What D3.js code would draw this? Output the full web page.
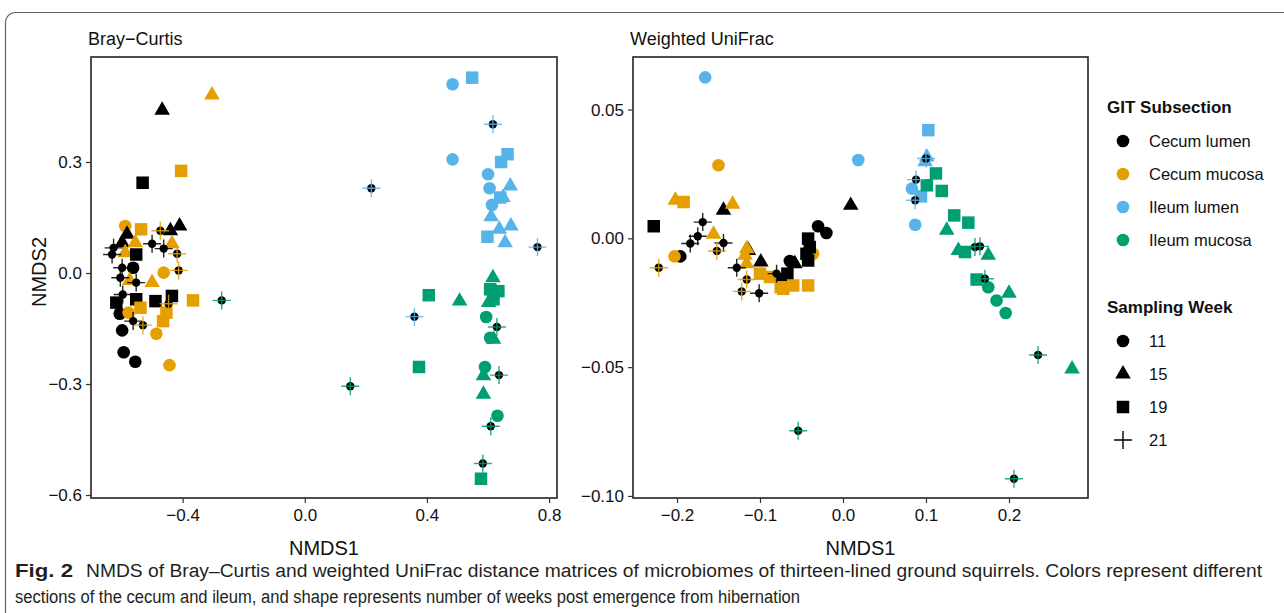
<!DOCTYPE html>
<html>
<head>
<meta charset="utf-8">
<script src="https://cdn.jsdelivr.net/npm/d3@7"></script>
<style>
  body { margin: 0; background: #fff; }
  text { font-family: "Liberation Sans", Arial, sans-serif; }
</style>
</head>
<body>
<svg id="chart" width="1284" height="613"></svg>
<script>
// 群の名前と色
const sections = ["Cecum lumen", "Cecum mucosa", "Ileum lumen", "Ileum mucosa"];
const sectionColors = ["#000000", "#E69F00", "#56B4E9", "#009E73"];
const weeks = [11, 15, 19, 21];

// 目盛り
const bcXTicks = [-0.4, 0.0, 0.4, 0.8];
const bcYTicks = [-0.6, -0.3, 0.0, 0.3];
const wuXTicks = [-0.2, -0.1, 0.0, 0.1, 0.2];
const wuYTicks = [-0.10, -0.05, 0.00, 0.05];

// Bray-Curtis: [NMDS1, NMDS2, section index, week]
const brayCurtis = [
  [-0.467, 0.44, 0, 15], [-0.531, 0.244, 0, 19], [-0.44, 0.114, 0, 15], [-0.41, 0.127, 0, 15],
  [-0.582, 0.105, 0, 15], [-0.50, 0.079, 0, 21], [-0.462, 0.066, 0, 21], [-0.626, 0.068, 0, 21],
  [-0.598, 0.082, 0, 15], [-0.631, 0.05, 0, 21], [-0.552, 0.05, 0, 19], [-0.598, 0.014, 0, 21],
  [-0.562, 0.014, 0, 11], [-0.604, -0.013, 0, 21], [-0.552, -0.026, 0, 21], [-0.596, -0.058, 0, 21],
  [-0.617, -0.080, 0, 19], [-0.552, -0.071, 0, 19], [-0.489, -0.076, 0, 19], [-0.435, -0.062, 0, 19],
  [-0.606, -0.11, 0, 11], [-0.562, -0.13, 0, 21], [-0.598, -0.155, 0, 11], [-0.593, -0.214, 0, 11],
  [-0.555, -0.24, 0, 11],
  [-0.304, 0.481, 1, 15], [-0.405, 0.276, 1, 19], [-0.588, 0.127, 1, 11], [-0.536, 0.118, 1, 19],
  [-0.473, 0.114, 1, 21], [-0.555, 0.082, 1, 15], [-0.435, 0.079, 1, 15], [-0.588, 0.055, 1, 15],
  [-0.418, 0.052, 1, 21], [-0.413, 0.007, 1, 21], [-0.462, 0.001, 1, 11], [-0.573, -0.020, 1, 15],
  [-0.50, -0.026, 1, 15], [-0.446, -0.083, 1, 21], [-0.366, -0.074, 1, 19], [-0.538, -0.094, 1, 19],
  [-0.577, -0.107, 1, 11], [-0.453, -0.107, 1, 19], [-0.464, -0.13, 1, 19], [-0.53, -0.141, 1, 21],
  [-0.486, -0.164, 1, 11], [-0.443, -0.249, 1, 11],
  [0.484, 0.51, 2, 11], [0.548, 0.528, 2, 19], [0.616, 0.402, 2, 21], [0.218, 0.229, 2, 21],
  [0.484, 0.307, 2, 11], [0.664, 0.321, 2, 19], [0.643, 0.30, 2, 19], [0.60, 0.267, 2, 11],
  [0.605, 0.229, 2, 11], [0.673, 0.235, 2, 15], [0.649, 0.204, 2, 15], [0.64, 0.204, 2, 19],
  [0.613, 0.184, 2, 11], [0.61, 0.152, 2, 15], [0.637, 0.118, 2, 15], [0.675, 0.127, 2, 15],
  [0.598, 0.098, 2, 19], [0.656, 0.082, 2, 15], [0.762, 0.07, 2, 21], [0.359, -0.118, 2, 21],
  [-0.272, -0.074, 3, 21], [0.406, -0.060, 3, 19], [0.507, -0.076, 3, 15], [0.616, -0.013, 3, 15],
  [0.607, -0.044, 3, 19], [0.634, -0.049, 3, 19], [0.602, -0.080, 3, 15], [0.618, -0.071, 3, 19],
  [0.594, -0.119, 3, 11], [0.629, -0.146, 3, 21], [0.607, -0.175, 3, 11], [0.618, -0.179, 3, 15],
  [0.374, -0.254, 3, 19], [0.590, -0.254, 3, 11], [0.585, -0.278, 3, 15], [0.636, -0.276, 3, 21],
  [0.149, -0.306, 3, 21], [0.585, -0.328, 3, 15], [0.631, -0.386, 3, 11], [0.609, -0.414, 3, 21],
  [0.583, -0.515, 3, 21], [0.577, -0.556, 3, 19]
];

// Weighted UniFrac: [NMDS1, NMDS2, section index, week]
const unifrac = [
  [-0.228, 0.0047, 0, 19], [-0.144, 0.0109, 0, 15], [-0.169, 0.0063, 0, 21], [-0.175, 0.0008, 0, 21],
  [-0.184, -0.002, 0, 21], [-0.144, -0.0018, 0, 21], [-0.042, -0.0001, 0, 19], [-0.030, 0.0047, 0, 11],
  [-0.020, 0.0021, 0, 11], [-0.196, -0.007, 0, 11], [-0.114, -0.0047, 0, 15], [-0.128, -0.0114, 0, 21],
  [-0.099, -0.0092, 0, 15], [-0.080, -0.0137, 0, 21], [-0.064, -0.0088, 0, 11], [-0.058, -0.0099, 0, 15],
  [-0.067, -0.0137, 0, 19], [-0.072, -0.016, 0, 19], [-0.044, -0.006, 0, 19], [-0.042, -0.0086, 0, 19],
  [-0.040, -0.0034, 0, 19], [-0.101, -0.0213, 0, 21], [0.0093, 0.0128, 0, 15],
  [-0.150, 0.0284, 1, 11], [-0.202, 0.0148, 1, 15], [-0.192, 0.0141, 1, 19], [-0.133, 0.0132, 1, 15],
  [-0.156, 0.0016, 1, 15], [-0.116, -0.004, 1, 15], [-0.203, -0.007, 1, 11], [-0.222, -0.0114, 1, 21],
  [-0.152, -0.0049, 1, 21], [-0.118, -0.0066, 1, 15], [-0.116, -0.0099, 1, 15], [-0.100, -0.0137, 1, 19],
  [-0.088, -0.015, 1, 19], [-0.072, -0.0196, 1, 19], [-0.060, -0.0183, 1, 19], [-0.042, -0.0183, 1, 19],
  [-0.075, -0.019, 1, 19], [-0.036, -0.006, 1, 11], [-0.116, -0.016, 1, 21], [-0.122, -0.0206, 1, 21],
  [-0.166, 0.0625, 2, 11], [0.0184, 0.0304, 2, 11], [0.1028, 0.042, 2, 19], [0.101, 0.0316, 2, 15],
  [0.099, 0.0297, 2, 15], [0.083, 0.0193, 2, 11], [0.094, 0.0163, 2, 19], [0.088, 0.0228, 2, 21],
  [0.087, 0.0148, 2, 21], [0.087, 0.0053, 2, 11], [0.100, 0.031, 2, 21],
  [0.112, 0.0252, 3, 19], [0.101, 0.0206, 3, 19], [0.119, 0.0184, 3, 19], [0.134, 0.0089, 3, 19],
  [0.151, 0.0061, 3, 19], [0.125, 0.0031, 3, 15], [0.139, -0.0047, 3, 15], [0.147, -0.0053, 3, 19],
  [0.159, -0.0034, 3, 21], [0.165, -0.0031, 3, 21], [0.175, -0.0066, 3, 15], [0.161, -0.016, 3, 19],
  [0.171, -0.0157, 3, 21], [0.175, -0.019, 3, 11], [0.200, -0.0213, 3, 15], [0.185, -0.0241, 3, 11],
  [0.196, -0.029, 3, 11], [0.235, -0.0453, 3, 21], [0.276, -0.0507, 3, 15], [0.206, -0.0933, 3, 21],
  [-0.054, -0.0747, 3, 21]
];

const svg = d3.select('#chart');

// 外枠
svg.append('rect')
  .attr('x', 5.5).attr('y', 12.5)
  .attr('width', 1320).attr('height', 700)
  .attr('rx', 10)
  .attr('fill', 'none')
  .attr('stroke', '#666')
  .attr('stroke-width', 1.2);

const minus = s => s.replace('-', '\u2212');

// 形を描く（withDot=false なら凡例用の十字のみ）
function drawPoint(g, d, x, y, withDot = true) {
  const cx = x(d[0]), cy = y(d[1]);
  const col = sectionColors[d[2]];
  const wk = d[3];
  if (wk === 21) {
    if (withDot) {
      g.append('circle').attr('cx', cx).attr('cy', cy).attr('r', 4.2).attr('fill', '#000');
    }
    g.append('path')
      .attr('d', `M${cx - 9},${cy}H${cx + 9}M${cx},${cy - 9}V${cy + 9}`)
      .attr('stroke', col).attr('stroke-width', 1.4).attr('opacity', withDot ? 0.85 : 1);
    return;
  }
  let type, size;
  if (wk === 11) { type = d3.symbolCircle; size = Math.PI * 6.3 * 6.3; }
  else if (wk === 15) { type = d3.symbolTriangle; size = 105; }
  else { type = d3.symbolSquare; size = 12.5 * 12.5; }
  g.append('path')
    .attr('d', d3.symbol().type(type).size(size)())
    .attr('transform', `translate(${cx},${cy})`)
    .attr('fill', col);
}

// パネルを描く
function drawPanel(opt) {
  const x = d3.scaleLinear().domain(opt.xDomain).range([opt.left, opt.right]);
  const y = d3.scaleLinear().domain(opt.yDomain).range([opt.bottom, opt.top]);
  const g = svg.append('g');

  g.append('text')
    .attr('x', opt.left - 3).attr('y', 45)
    .attr('font-size', 18).attr('fill', '#111')
    .text(opt.title);

  const pts = g.append('g');
  const order = [11, 15, 19, 21];
  order.forEach(w => opt.data.filter(d => d[3] === w).forEach(d => drawPoint(pts, d, x, y)));

  g.append('rect')
    .attr('x', opt.left).attr('y', opt.top)
    .attr('width', opt.right - opt.left).attr('height', opt.bottom - opt.top)
    .attr('fill', 'none').attr('stroke', '#222').attr('stroke-width', 1.6);

  const xAxis = g.append('g')
    .attr('transform', `translate(0,${opt.bottom})`)
    .call(d3.axisBottom(x).tickValues(opt.xTicks).tickSize(5).tickPadding(6)
      .tickFormat(d => minus(d3.format('.1f')(d))));
  const yAxis = g.append('g')
    .attr('transform', `translate(${opt.left},0)`)
    .call(d3.axisLeft(y).tickValues(opt.yTicks).tickSize(5).tickPadding(4)
      .tickFormat(d => minus(d3.format(opt.yFmt)(d))));
  [xAxis, yAxis].forEach(a => {
    a.select('.domain').remove();
    a.selectAll('line').attr('stroke', '#333').attr('stroke-width', 1.2);
    a.selectAll('text').attr('font-size', 17).attr('fill', '#111')
      .attr('font-family', '"Liberation Sans", Arial, sans-serif');
  });

  g.append('text')
    .attr('x', (opt.left + opt.right) / 2).attr('y', 555)
    .attr('text-anchor', 'middle')
    .attr('font-size', 20).attr('fill', '#111')
    .text('NMDS1');
}

drawPanel({
  title: 'Bray\u2212Curtis', data: brayCurtis,
  left: 91, right: 557, top: 57, bottom: 498,
  xDomain: [-0.7, 0.8259], yDomain: [-0.6081, 0.5838],
  xTicks: bcXTicks, yTicks: bcYTicks, yFmt: '.1f'
});

drawPanel({
  title: 'Weighted UniFrac', data: unifrac,
  left: 633, right: 1088, top: 57, bottom: 498,
  xDomain: [-0.2530, 0.2952], yDomain: [-0.1008, 0.0704],
  xTicks: wuXTicks, yTicks: wuYTicks, yFmt: '.2f'
});

// 縦軸ラベル
svg.append('text')
  .attr('transform', 'translate(46,272) rotate(-90)')
  .attr('text-anchor', 'middle')
  .attr('font-size', 20).attr('fill', '#111')
  .text('NMDS2');

// 凡例
const leg = svg.append('g');
leg.append('text').attr('x', 1107).attr('y', 113)
  .attr('font-size', 17).attr('font-weight', 'bold').attr('fill', '#111')
  .text('GIT Subsection');
sections.forEach((s, i) => {
  const yy = 141 + i * 33;
  leg.append('circle').attr('cx', 1123).attr('cy', yy).attr('r', 6.3).attr('fill', sectionColors[i]);
  leg.append('text').attr('x', 1149).attr('y', yy + 6)
    .attr('font-size', 16.5).attr('fill', '#111').text(s);
});
leg.append('text').attr('x', 1107).attr('y', 313)
  .attr('font-size', 17).attr('font-weight', 'bold').attr('fill', '#111')
  .text('Sampling Week');
weeks.forEach((w, i) => {
  const yy = 341 + i * 33;
  drawPoint(leg, [0, 0, 0, w], () => 1123, () => yy, false);
  leg.append('text').attr('x', 1149).attr('y', yy + 6)
    .attr('font-size', 16.5).attr('fill', '#111').text(w);
});

// キャプション
const cap = svg.append('g').attr('fill', '#231f20');
cap.append('text').attr('x', 15).attr('y', 577)
  .attr('font-family', '"Open Sans", sans-serif').attr('font-size', 18).attr('font-weight', 'bold')
  .attr('textLength', 58).attr('lengthAdjust', 'spacingAndGlyphs')
  .text('Fig. 2');
cap.append('text').attr('x', 86).attr('y', 577)
  .attr('font-family', '"Open Sans", sans-serif').attr('font-size', 18)
  .attr('textLength', 1176).attr('lengthAdjust', 'spacingAndGlyphs')
  .text('NMDS of Bray\u2013Curtis and weighted UniFrac distance matrices of microbiomes of thirteen-lined ground squirrels. Colors represent different');
cap.append('text').attr('x', 15).attr('y', 603)
  .attr('font-family', '"Open Sans", sans-serif').attr('font-size', 18)
  .attr('textLength', 785).attr('lengthAdjust', 'spacingAndGlyphs')
  .text('sections of the cecum and ileum, and shape represents number of weeks post emergence from hibernation');
</script>
</body>
</html>
